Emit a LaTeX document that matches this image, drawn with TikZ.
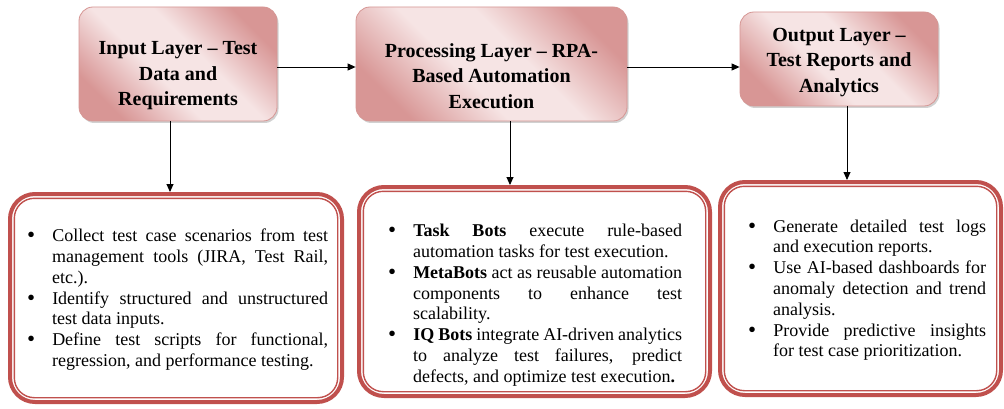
\documentclass[tikz,border=0pt]{standalone}
\usepackage{fontspec}
\setmainfont{Liberation Serif}
\usetikzlibrary{arrows.meta,shadows}
\definecolor{pdark}{RGB}{216,150,149}
\definecolor{plight}{RGB}{246,228,228}
\definecolor{pborder}{RGB}{214,150,148}
\definecolor{rborder}{RGB}{192,80,77}
\pgfdeclarehorizontalshading{pinkdiag}{100bp}{color(0bp)=(pdark); color(25bp)=(pdark); color(43bp)=(plight); color(57bp)=(plight); color(75bp)=(pdark); color(100bp)=(pdark)}
\newcommand{\bigbul}{\raisebox{-1.2pt}{\fontsize{23}{23}\selectfont\textbullet}}
\newenvironment{blist}{\begin{list}{\bigbul}{\setlength{\leftmargin}{21pt}\setlength{\labelsep}{17pt}\setlength{\labelwidth}{8pt}\setlength{\itemsep}{0pt}\setlength{\parsep}{0pt}\setlength{\topsep}{0pt}\setlength{\partopsep}{0pt}\setlength{\itemindent}{0pt}}}{\end{list}}
\tikzset{
  topbox/.style={rectangle, rounded corners=14pt, draw=pborder, line width=0.8pt,
    shading=pinkdiag, shading angle=45,
    drop shadow={shadow xshift=1.5pt, shadow yshift=-2pt, fill=black!40, opacity=0.45}},
  title/.style={font=\bfseries\fontsize{20}{25.5}\selectfont, align=center, inner sep=0pt},
  botbox/.style={rectangle, rounded corners=25pt, draw=rborder, line width=4pt},
  innerline/.style={draw=rborder, line width=1.4pt, rounded corners=20pt},
  body/.style={font=\fontsize{18}{20.8}\selectfont, align=justify, inner sep=0pt, anchor=north west},
  arr/.style={line width=0.9pt, -{Triangle[length=8pt,width=7pt]}}
}
\begin{document}
\begin{tikzpicture}[x=1pt,y=1pt]
\useasboundingbox (0,0) rectangle (1004,-409);
\fill[white] (0,0) rectangle (1004,-409);
% top boxes
\node[topbox, minimum width=198pt, minimum height=114pt] (box1) at (178,-64) {};
\node[topbox, minimum width=271pt, minimum height=114pt] (box2) at (491.5,-64) {};
\node[topbox, minimum width=198pt, minimum height=94pt] (box3) at (839,-59) {};
\node[title] (t1) at ([yshift=-12pt]box1.center) {Input Layer -- Test\\Data and\\Requirements};
\node[title] (t2) at ([yshift=-12pt]box2.center) {Processing Layer -- RPA-\\Based Automation\\Execution};
\node[title] (t3) at ([yshift=-3.5pt]box3.center) {Output Layer --\\Test Reports and\\Analytics};
% bottom boxes
\node[botbox, minimum width=332pt, minimum height=208pt] (box4) at (176,-298) {};
\node[botbox, minimum width=351pt, minimum height=209pt] (box5) at (534.5,-291.5) {};
\node[botbox, minimum width=281pt, minimum height=213pt] (box6) at (860.5,-288.5) {};
\foreach \b in {box4,box5,box6}{
  \draw[innerline] ([shift={(6.3pt,-6.3pt)}]\b.north west) rectangle ([shift={(-6.3pt,6.3pt)}]\b.south east);
}
\node[body, text width=297pt] (l4) at (31,-220.6) {\tolerance=10000\hyphenpenalty=10000
\begin{blist}
\item Collect test case scenarios from test\linebreak management tools (JIRA, Test Rail,\linebreak etc.).
\item Identify structured and unstructured\linebreak test data inputs.
\item Define test scripts for functional,\linebreak regression, and performance testing.
\end{blist}};
\node[body, text width=290pt] (l5) at (392,-215.6) {\tolerance=10000\hyphenpenalty=10000
\begin{blist}
\item \textbf{Task Bots} execute rule-based\linebreak automation tasks for test execution.
\item \textbf{MetaBots} act as reusable automation\linebreak components to enhance test\linebreak scalability.
\item \textbf{IQ Bots} integrate AI-driven analytics\linebreak to analyze test failures, predict\linebreak defects, and optimize test execution\textbf{.}
\end{blist}};
\node[body, text width=234pt] (l6) at (752,-211) {\tolerance=10000\hyphenpenalty=10000
\begin{blist}
\item Generate detailed test logs\linebreak and execution reports.
\item Use AI-based dashboards for\linebreak anomaly detection and trend\linebreak analysis.
\item Provide predictive insights\linebreak for test case prioritization.
\end{blist}};
% connectors
\draw[arr] ([yshift=-3pt]box1.east) -- ([yshift=-3pt]box1.east -| box2.west);
\draw[arr] ([yshift=-3pt]box2.east) -- ([yshift=-3pt]box2.east -| box3.west);
\draw[arr] ([xshift=-8pt]box1.south) -- ([xshift=-8pt]box1.south |- box4.north);
\draw[arr] ([xshift=18.5pt]box2.south) -- ([xshift=18.5pt]box2.south |- box5.north);
\draw[arr] ([xshift=8pt]box3.south) -- ([xshift=8pt]box3.south |- box6.north);
\end{tikzpicture}
\end{document}
